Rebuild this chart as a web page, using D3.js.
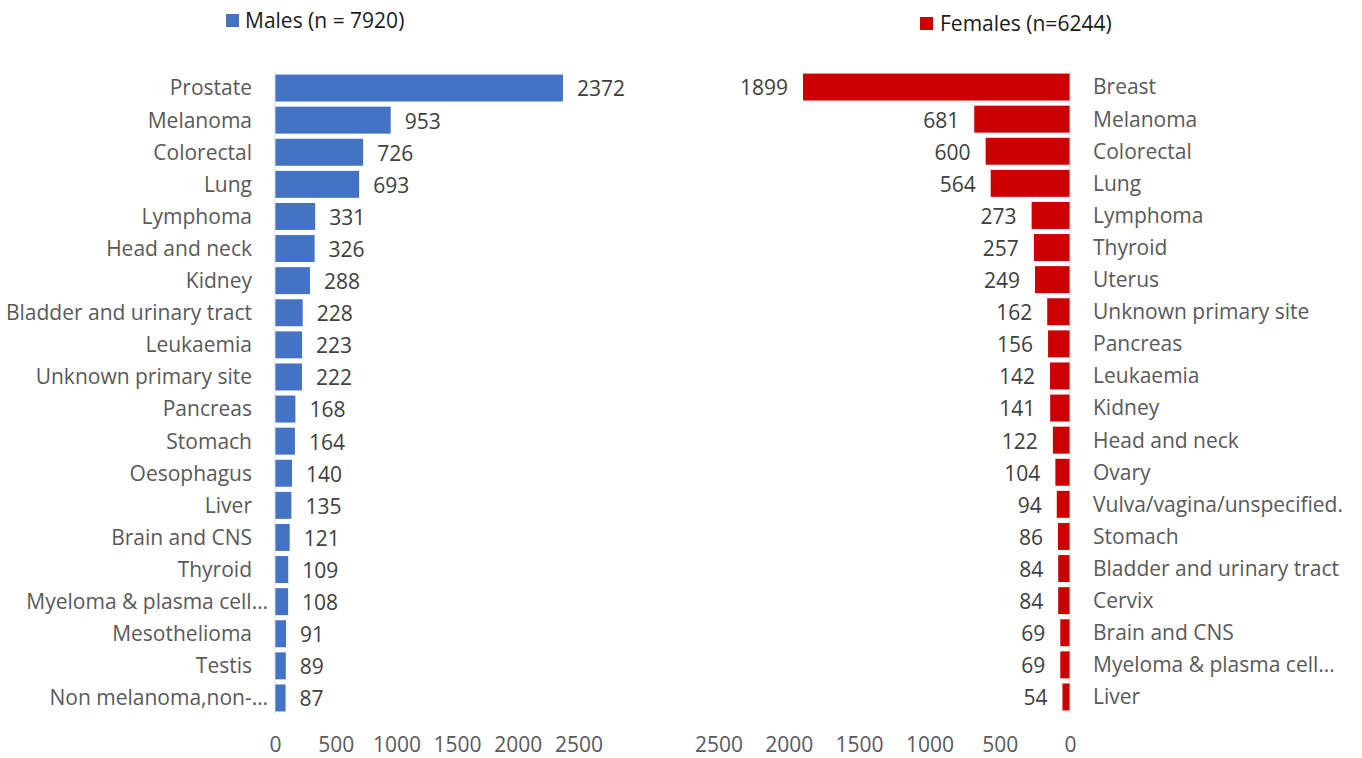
<!DOCTYPE html>
<html>
<head>
<meta charset="utf-8">
<script src="https://cdn.jsdelivr.net/npm/d3@7"></script>
<style>
  body { margin: 0; background: #fff; }
  svg { display: block; }
  .cat { font-family: "Open Sans", sans-serif; font-size: 21px; fill: #595959; }
  .val { font-family: "Open Sans", sans-serif; font-size: 21px; fill: #404040; }
  .tick text { font-family: "Open Sans", sans-serif; font-size: 21px; fill: #595959; }
  .legend { font-family: "Open Sans", sans-serif; font-size: 21px; fill: #1a1a1a; }
</style>
</head>
<body>
<div id="chart"></div>
<script>
// male cancer counts
var maleCats = ["Prostate", "Melanoma", "Colorectal", "Lung", "Lymphoma", "Head and neck",
    "Kidney", "Bladder and urinary tract", "Leukaemia", "Unknown primary site", "Pancreas",
    "Stomach", "Oesophagus", "Liver", "Brain and CNS", "Thyroid", "Myeloma & plasma cell\u2026",
    "Mesothelioma", "Testis", "Non melanoma,non-\u2026"];
var maleVals = [2372, 953, 726, 693, 331, 326, 288, 228, 223, 222, 168, 164, 140, 135, 121,
    109, 108, 91, 89, 87];

// female cancer counts
var femaleCats = ["Breast", "Melanoma", "Colorectal", "Lung", "Lymphoma", "Thyroid", "Uterus",
    "Unknown primary site", "Pancreas", "Leukaemia", "Kidney", "Head and neck", "Ovary",
    "Vulva/vagina/unspecified.", "Stomach", "Bladder and urinary tract", "Cervix",
    "Brain and CNS", "Myeloma & plasma cell\u2026", "Liver"];
var femaleVals = [1899, 681, 600, 564, 273, 257, 249, 162, 156, 142, 141, 122, 104, 94, 86,
    84, 84, 69, 69, 54];

var xTicks = [0, 500, 1000, 1500, 2000, 2500];
var maleLegend = "Males (n = 7920)";
var femaleLegend = "Females (n=6244)";

var width = 1362, height = 758;
var blue = "#4472C4", red = "#CC0000";

var svg = d3.select("#chart").append("svg")
    .attr("width", width)
    .attr("height", height);

// ---- left panel (males) ----
var xL = d3.scaleLinear().domain([0, 2500]).range([275, 578.5]);
var yL = d3.scaleBand().domain(maleCats).range([72, 714]).paddingInner(0.16).paddingOuter(0.08);

var left = svg.append("g");

left.selectAll("rect.bar")
    .data(maleCats)
    .enter().append("rect")
    .attr("class", "bar")
    .attr("x", xL(0))
    .attr("y", function (d) { return yL(d); })
    .attr("width", function (d, i) { return xL(maleVals[i]) - xL(0); })
    .attr("height", yL.bandwidth())
    .attr("fill", blue);

left.selectAll("text.val")
    .data(maleCats)
    .enter().append("text")
    .attr("class", "val")
    .attr("x", function (d, i) { return xL(maleVals[i]) + 14; })
    .attr("y", function (d) { return yL(d) + yL.bandwidth() / 2 + 1; })
    .attr("dy", "0.35em")
    .text(function (d, i) { return maleVals[i]; });

// truncated labels (with ellipsis) sit closer to the axis, like the original
left.selectAll("text.cat")
    .data(maleCats)
    .enter().append("text")
    .attr("class", "cat")
    .attr("x", function (d) { return d.slice(-1) === "\u2026" ? 268 : 252; })
    .attr("y", function (d) { return yL(d) + yL.bandwidth() / 2; })
    .attr("dy", "0.35em")
    .attr("text-anchor", "end")
    .text(function (d) { return d; });

// vertical axis line
left.append("line")
    .attr("x1", xL(0)).attr("x2", xL(0))
    .attr("y1", 72).attr("y2", 714)
    .attr("stroke", "#d9d9d9");

var xAxisL = d3.axisBottom(xL).tickValues(xTicks).tickFormat(d3.format("d")).tickSize(0).tickPadding(0);
left.append("g")
    .attr("transform", "translate(0,737)")
    .call(xAxisL)
    .call(function (g) { g.select(".domain").remove(); })
    .selectAll("text").attr("dy", "0.71em");

// ---- right panel (females) ----
var xR = d3.scaleLinear().domain([0, 2500]).range([1070, 718.5]);
var yR = d3.scaleBand().domain(femaleCats).range([71, 713]).paddingInner(0.16).paddingOuter(0.08);

var right = svg.append("g");

right.selectAll("rect.bar")
    .data(femaleCats)
    .enter().append("rect")
    .attr("class", "bar")
    .attr("x", function (d, i) { return xR(femaleVals[i]); })
    .attr("y", function (d) { return yR(d); })
    .attr("width", function (d, i) { return xR(0) - xR(femaleVals[i]); })
    .attr("height", yR.bandwidth())
    .attr("fill", red);

right.selectAll("text.val")
    .data(femaleCats)
    .enter().append("text")
    .attr("class", "val")
    .attr("x", function (d, i) { return xR(femaleVals[i]) - 15; })
    .attr("y", function (d) { return yR(d) + yR.bandwidth() / 2 + 1; })
    .attr("dy", "0.35em")
    .attr("text-anchor", "end")
    .text(function (d, i) { return femaleVals[i]; });

right.selectAll("text.cat")
    .data(femaleCats)
    .enter().append("text")
    .attr("class", "cat")
    .attr("x", 1093)
    .attr("y", function (d) { return yR(d) + yR.bandwidth() / 2; })
    .attr("dy", "0.35em")
    .text(function (d) { return d; });

right.append("line")
    .attr("x1", xR(0)).attr("x2", xR(0))
    .attr("y1", 71).attr("y2", 713)
    .attr("stroke", "#d9d9d9");

var xAxisR = d3.axisBottom(xR).tickValues(xTicks).tickFormat(d3.format("d")).tickSize(0).tickPadding(0);
right.append("g")
    .attr("transform", "translate(0,737)")
    .call(xAxisR)
    .call(function (g) { g.select(".domain").remove(); })
    .selectAll("text").attr("dy", "0.71em");

// ---- legends ----
svg.append("rect").attr("x", 226).attr("y", 14).attr("width", 13).attr("height", 13).attr("fill", blue);
svg.append("text").attr("class", "legend").attr("x", 245).attr("y", 21).attr("dy", "0.35em").text(maleLegend);

svg.append("rect").attr("x", 920).attr("y", 17).attr("width", 13).attr("height", 13).attr("fill", red);
svg.append("text").attr("class", "legend").attr("x", 940).attr("y", 24).attr("dy", "0.35em").text(femaleLegend);
</script>
</body>
</html>
